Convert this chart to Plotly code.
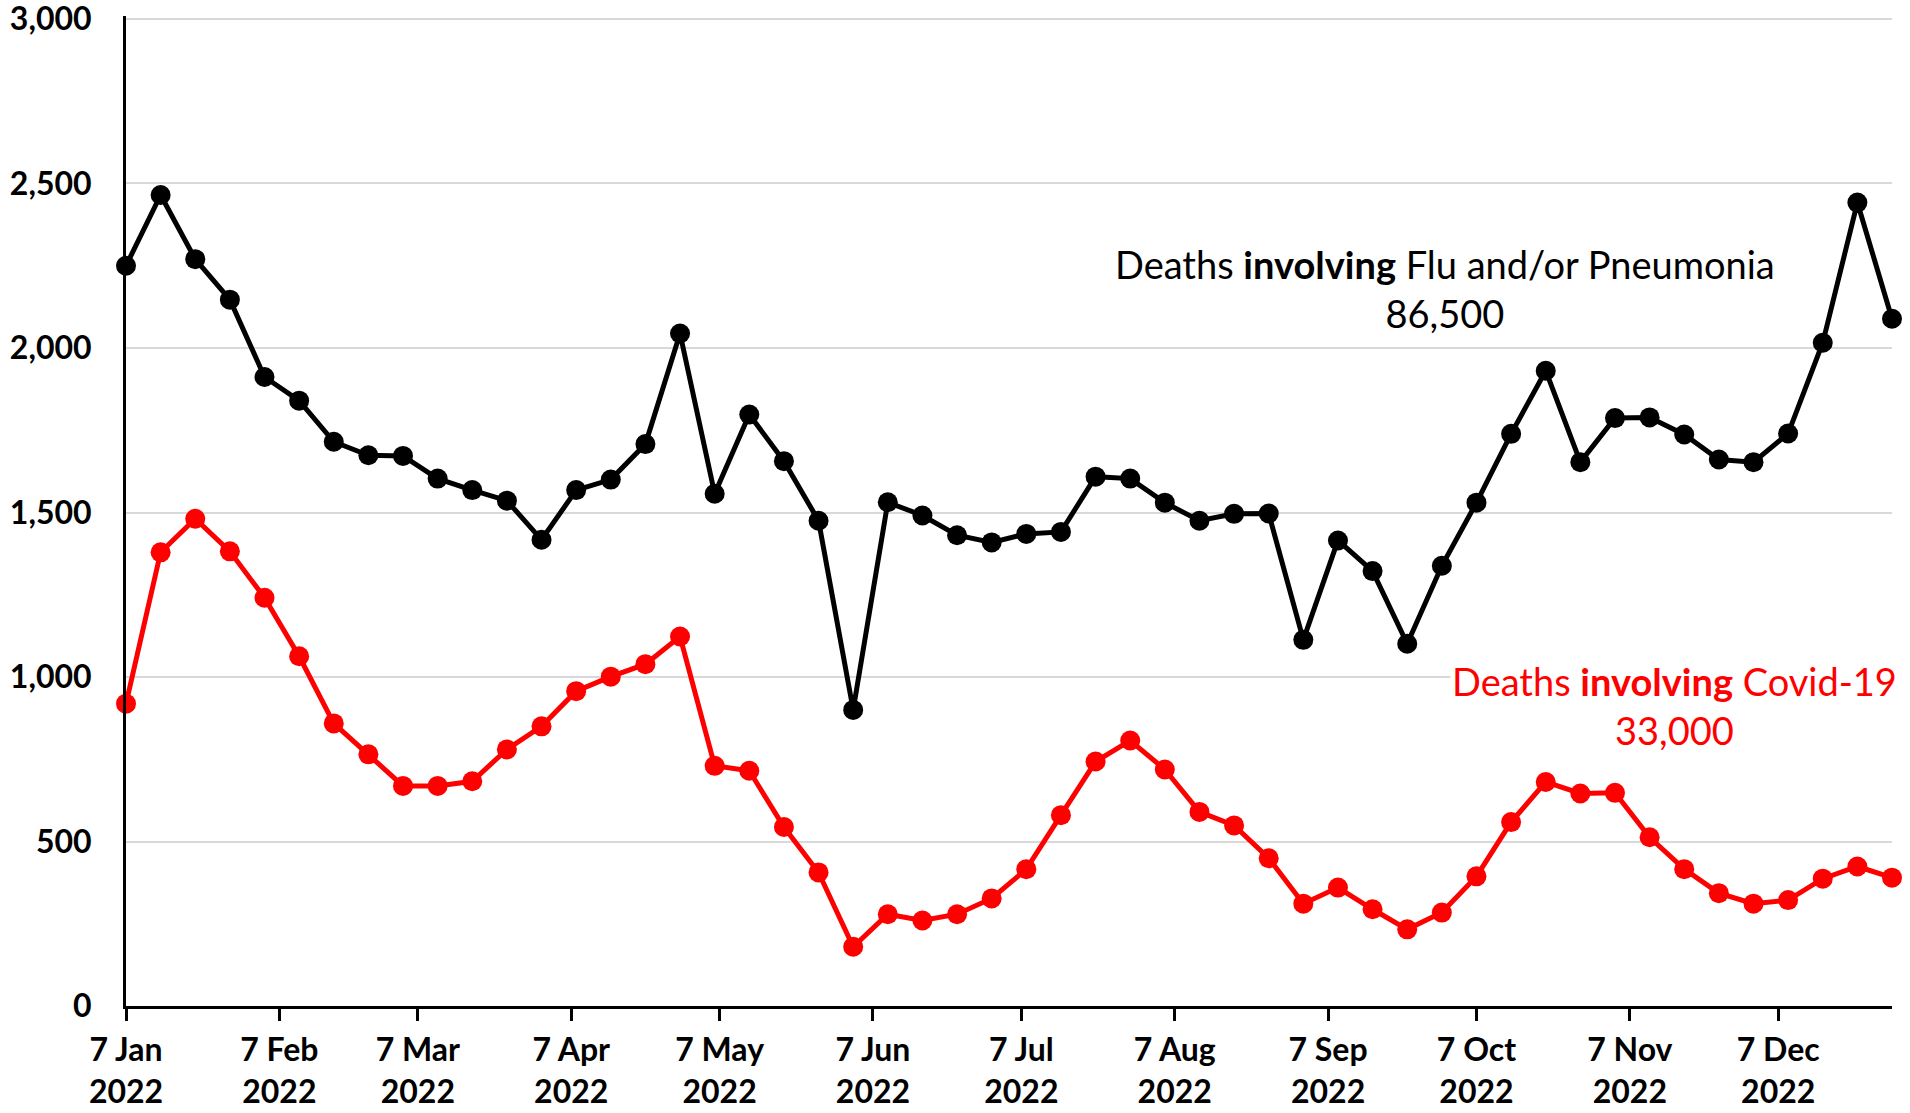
import pandas as pd
import plotly.graph_objects as go

# weekly deaths, 2022
week_start = "2022-01-07"
n_weeks = 52
dates = pd.date_range(week_start, periods=n_weeks, freq="7D")

flu_pneumonia = [2250, 2465, 2270, 2147, 1912, 1840, 1715, 1674, 1672, 1603,
                 1568, 1536, 1417, 1568, 1600, 1708, 2044, 1557, 1798, 1656,
                 1475, 900, 1531, 1491, 1431, 1409, 1435, 1441, 1609, 1603,
                 1530, 1475, 1496, 1497, 1113, 1415, 1322, 1101, 1338, 1530,
                 1739, 1931, 1653, 1787, 1789, 1737, 1661, 1653, 1740, 2016,
                 2442, 2089]

covid = [919, 1379, 1481, 1382, 1241, 1063, 859, 765, 669, 669,
         683, 780, 850, 957, 1001, 1039, 1123, 730, 715, 544,
         406, 180, 279, 260, 279, 327, 416, 580, 743, 807,
         719, 590, 549, 449, 311, 360, 294, 233, 284, 394,
         559, 681, 646, 648, 513, 416, 343, 311, 322, 387,
         424, 390]

tick_dates = ["2022-01-07", "2022-02-07", "2022-03-07", "2022-04-07", "2022-05-07",
              "2022-06-07", "2022-07-07", "2022-08-07", "2022-09-07", "2022-10-07",
              "2022-11-07", "2022-12-07"]
tick_labels = ["7 Jan<br>2022", "7 Feb<br>2022", "7 Mar<br>2022", "7 Apr<br>2022",
               "7 May<br>2022", "7 Jun<br>2022", "7 Jul<br>2022", "7 Aug<br>2022",
               "7 Sep<br>2022", "7 Oct<br>2022", "7 Nov<br>2022", "7 Dec<br>2022"]

y_ticks = [0, 500, 1000, 1500, 2000, 2500, 3000]

FONT = "Lato, 'Open Sans', sans-serif"

fig = go.Figure()
fig.add_trace(go.Scatter(x=dates, y=flu_pneumonia, mode="lines+markers",
                         line=dict(color="black", width=5),
                         marker=dict(color="black", size=20),
                         cliponaxis=False, name="Flu and/or Pneumonia"))
fig.add_trace(go.Scatter(x=dates, y=covid, mode="lines+markers",
                         line=dict(color="#ff0000", width=5),
                         marker=dict(color="#ff0000", size=20),
                         cliponaxis=False, name="Covid-19"))

fig.add_annotation(xref="paper", yref="paper", x=0.747, y=0.725,
                   xanchor="center", yanchor="middle",
                   text="Deaths <b>involving</b> Flu and/or Pneumonia<br>86,500",
                   showarrow=False, align="center", bgcolor="white",
                   font=dict(family=FONT, size=38, color="black"))
fig.add_annotation(xref="paper", yref="paper", x=0.877, y=0.304,
                   xanchor="center", yanchor="middle",
                   text="Deaths <b>involving</b> Covid-19<br>33,000",
                   showarrow=False, align="center", bgcolor="white",
                   font=dict(family=FONT, size=38, color="#ff0000"))

fig.update_xaxes(range=[dates[0], dates[-1]], tickvals=tick_dates, ticktext=tick_labels,
                 showgrid=False, showline=True, linecolor="black", linewidth=3,
                 ticks="outside", ticklen=12, tickwidth=3, tickcolor="black",
                 tickfont=dict(family=FONT, size=32, color="black", weight="bold"),
                 ticklabelstandoff=2, zeroline=False, automargin=False)
# a bit of headroom above 3000 so plotly keeps the top gridline
fig.update_yaxes(range=[0, 3009.1], tickvals=y_ticks, tickformat=",",
                 showgrid=True, gridcolor="#d9d9d9", gridwidth=2,
                 showline=True, linecolor="black", linewidth=3,
                 ticks="", ticklabelstandoff=25, ticklabeloverflow="allow",
                 zeroline=False, automargin=False,
                 tickfont=dict(family=FONT, size=32, color="black", weight="bold"))

fig.update_layout(width=1910, height=1113, showlegend=False,
                  plot_bgcolor="white", paper_bgcolor="white",
                  margin=dict(l=126, r=18, t=16, b=107))

fig.write_html("out.html", config={"displayModeBar": False},
               post_script="document.body.style.margin='0px';")
